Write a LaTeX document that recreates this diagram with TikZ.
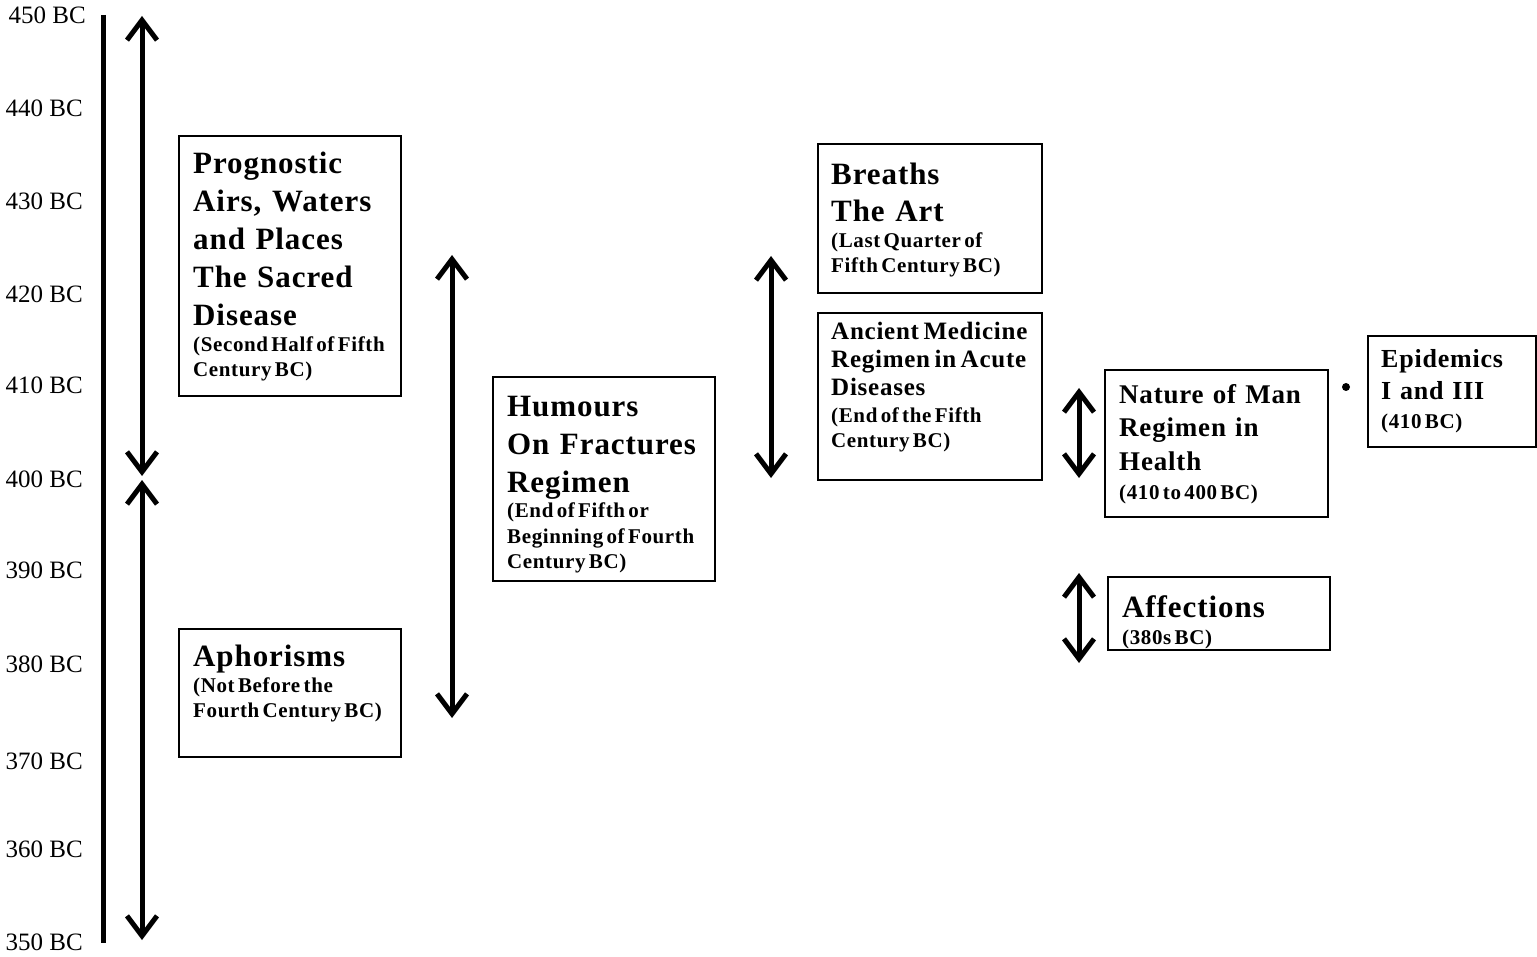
\documentclass[tikz,border=0pt]{standalone}
\usepackage{fontspec}
\setmainfont{Liberation Serif}[BoldFeatures={LetterSpace=3}]
\usetikzlibrary{arrows.meta}
\newcommand\mktext[5]{{\fontsize{#1}{#2}\selectfont\spaceskip=.34em plus .1em\relax #3\par}\vspace{#4}{\fontsize{21}{25.5}\selectfont #5\par}}
\tikzset{
  box/.style={draw, line width=1.8pt, inner sep=0pt, anchor=north west},
  txt/.style={anchor=north west, inner sep=0pt, align=left, text width=330pt, font=\bfseries,
    execute at begin node={\setlength\parindent{0pt}\setlength\parskip{0pt}}},
  tl/.style={anchor=east, inner sep=0pt, font=\fontsize{25}{25}\selectfont},
  dbl/.style={line width=5pt, {Straight Barb[length=20pt,width=30pt]}-{Straight Barb[length=20pt,width=30pt]}},
}
\begin{document}
\begin{tikzpicture}[x=1pt,y=-1pt]
\useasboundingbox (0,0) rectangle (1537,957);
% timeline labels
\node[tl] (l450) at (86,15.5) {450 BC};
\node[tl] (l440) at (83,108) {440 BC};
\node[tl] (l430) at (83,201) {430 BC};
\node[tl] (l420) at (83,294) {420 BC};
\node[tl] (l410) at (83,385) {410 BC};
\node[tl] (l400) at (83,479) {400 BC};
\node[tl] (l390) at (83,570) {390 BC};
\node[tl] (l380) at (83,664) {380 BC};
\node[tl] (l370) at (83,761) {370 BC};
\node[tl] (l360) at (83,849) {360 BC};
\node[tl] (l350) at (83,942) {350 BC};
% axis
\coordinate (axt) at (103,15);
\coordinate (axb) at (103,943);
\draw[line width=5pt] (axt) -- (axb);
% arrows
\coordinate (a1t) at (142,16);   \coordinate (a1b) at (142,476);
\coordinate (a2t) at (142,480);  \coordinate (a2b) at (142,940);
\coordinate (a3t) at (452,255);  \coordinate (a3b) at (452,718);
\coordinate (a4t) at (771,256);  \coordinate (a4b) at (771,478);
\coordinate (a5t) at (1079,388); \coordinate (a5b) at (1079,478);
\coordinate (a6t) at (1079,573); \coordinate (a6b) at (1079,663);
\draw[dbl] (a1t) -- (a1b);
\draw[dbl] (a2t) -- (a2b);
\draw[dbl] (a3t) -- (a3b);
\draw[dbl] (a4t) -- (a4b);
\draw[dbl] (a5t) -- (a5b);
\draw[dbl] (a6t) -- (a6b);
% boxes
\node[box, minimum width=222pt, minimum height=260pt] (A) at (178,135) {};
\node[box, minimum width=222pt, minimum height=128pt] (B) at (178,628) {};
\node[box, minimum width=222pt, minimum height=204pt] (C) at (492,376) {};
\node[box, minimum width=224pt, minimum height=149pt] (D) at (817,143) {};
\node[box, minimum width=224pt, minimum height=167pt] (E) at (817,312) {};
\node[box, minimum width=223pt, minimum height=147pt] (F) at (1104,369) {};
\node[box, minimum width=168pt, minimum height=111pt] (G) at (1367,335) {};
\node[box, minimum width=222pt, minimum height=73pt] (H) at (1107,576) {};
% texts
\node[txt] (At) at (193,152) {\mktext{31}{38}{Prognostic\\Airs, Waters\\and Places\\The Sacred\\Disease}{0pt}{(Second Half of Fifth\\Century BC)}};
\node[txt] (Bt) at (193,645) {\mktext{31}{38}{Aphorisms}{0pt}{(Not Before the\\Fourth Century BC)}};
\node[txt] (Ct) at (507,396) {\mktext{31}{38}{Humours\\On Fractures\\Regimen}{0pt}{(End of Fifth or\\Beginning of Fourth\\Century BC)}};
\node[txt] (Dt) at (831,163) {\mktext{31}{37}{Breaths\\The Art}{0pt}{(Last Quarter of\\Fifth Century BC)}};
\node[txt] (Et) at (831,322) {\mktext{25}{28}{\spaceskip=.18em\relax Ancient Medicine\\Regimen in Acute\\Diseases}{1pt}{(End of the Fifth\\Century BC)}};
\node[txt] (Ft) at (1119,384) {\mktext{27}{33.5}{Nature of Man\\Regimen in\\Health}{4pt}{(410 to 400 BC)}};
\node[txt] (Gt) at (1381,349) {\mktext{26}{32}{Epidemics\\I and III}{4pt}{(410 BC)}};
\node[txt] (Ht) at (1122,595) {\mktext{31}{38}{Affections}{2pt}{(380s BC)}};
% dot
\node[circle, fill, inner sep=0pt, minimum size=8pt] (dot) at (1346,387) {};
\end{tikzpicture}
\end{document}
